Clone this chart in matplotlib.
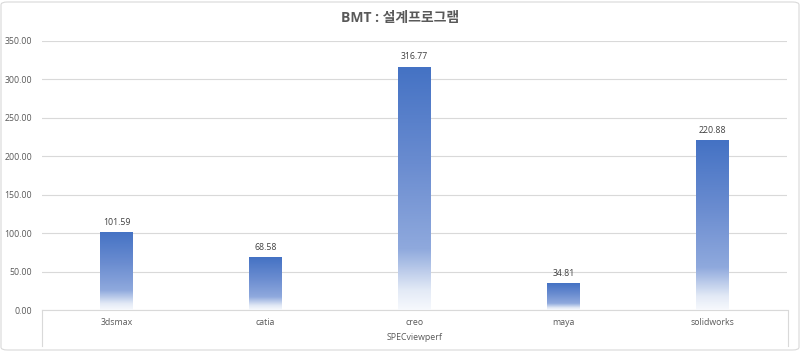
import matplotlib
matplotlib.use("Agg")
import matplotlib.pyplot as plt
import numpy as np
from matplotlib.colors import LinearSegmentedColormap
from matplotlib.patches import FancyBboxPatch
from matplotlib.lines import Line2D

plt.rcParams['font.family'] = ['Open Sans', 'Noto Sans CJK KR', 'DejaVu Sans']

title = "BMT : 설계프로그램"
categories = ["3dsmax", "catia", "creo", "maya", "solidworks"]
values = [101.59, 68.58, 316.77, 34.81, 220.88]
group_label = "SPECviewperf"
yticks = [0, 50, 100, 150, 200, 250, 300, 350]

W, H = 800, 351
fig = plt.figure(figsize=(W / 100, H / 100), dpi=100)
fig.patch.set_facecolor("white")

L, R, T, B = 42, 787, 41, 310
ax = fig.add_axes([L / W, 1 - B / H, (R - L) / W, (B - T) / H])
ax.set_facecolor("none")

x = np.arange(len(categories))
bars = ax.bar(x, values, width=0.22, color="none", edgecolor="none", zorder=3)

cmap = LinearSegmentedColormap.from_list(
    "grad", [(0.0, "#F7F9FD"), (0.08, "#E3EAF6"), (0.25, "#8FA9DD"), (0.6, "#6A8CD0"), (1.0, "#4472C4")])
grad = np.linspace(0, 1, 256).reshape(-1, 1)
for b in bars:
    x0, w, h = b.get_x(), b.get_width(), b.get_height()
    im = ax.imshow(grad, extent=[x0, x0 + w, 0, h], origin="lower", cmap=cmap,
                   aspect="auto", zorder=3, interpolation="bilinear")
    im.set_clip_path(b)
    ax.text(x0 + w / 2, h + 7, f"{h:.2f}", ha="center", va="bottom",
            fontsize=6.3, color="#404040", zorder=4)

ax.set_xlim(-0.5, len(categories) - 0.5)
ax.set_ylim(0, 350)
ax.set_yticks(yticks)
ax.set_yticklabels([f"{v:.2f}" for v in yticks], fontsize=6.3, color="#595959")
ax.tick_params(axis="y", length=0, pad=7)
ax.grid(axis="y", color="#D9D9D9", linewidth=0.8, zorder=0)
ax.set_axisbelow(True)
for s in ["left", "right", "top"]:
    ax.spines[s].set_visible(False)
ax.spines["bottom"].set_color("#D9D9D9")
ax.spines["bottom"].set_linewidth(0.8)
ax.set_xticks(x)
ax.set_xticklabels(categories, fontsize=6.3, color="#595959")
ax.tick_params(axis="x", length=0, pad=6)

# multi-level category axis frame
for xp in (L, R + 1):
    fig.add_artist(Line2D([xp / W, xp / W], [1 - B / H, 1 - 346 / H],
                          color="#D9D9D9", linewidth=0.8))
fig.text(((L + R) / 2) / W, 1 - 338 / H, group_label, ha="center", va="center",
         fontsize=6.3, color="#595959")

fig.text(0.5, 1 - 18 / H, title, ha="center", va="center", fontsize=10,
         fontweight="bold", color="#595959")

border = FancyBboxPatch((1 / W, 1 / H), (W - 2) / W, (H - 3) / H,
                        boxstyle="round,pad=0,rounding_size=0.008",
                        transform=fig.transFigure, facecolor="none",
                        edgecolor="#D9D9D9", linewidth=0.8)
fig.add_artist(border)

fig.savefig("out.png", dpi=100, facecolor="white")
